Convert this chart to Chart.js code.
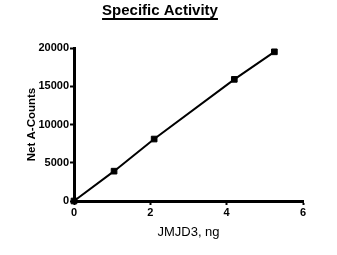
<!DOCTYPE html>
<html>
<head>
<meta charset="utf-8">
<script src="https://cdn.jsdelivr.net/npm/chart.js@4"></script>
<style>
html,body{margin:0;padding:0;background:#fff;}
#wrap{width:337px;height:255px;position:relative;}
</style>
</head>
<body>
<div id="wrap"><canvas id="c" width="337" height="255"></canvas></div>
<script>
const chartTitle = "Specific Activity";
const xAxisTitle = "JMJD3, ng";
const yAxisTitle = "Net A-Counts";
const jmjd3Ng = [0, 1.05, 2.1, 4.2, 5.25];
const netCounts = [0, 3900, 8100, 15900, 19500];
const xTicks = [0, 2, 4, 6];
const yTicks = [0, 5000, 10000, 15000, 20000];

const FONT = "'Liberation Sans', Arial, sans-serif";

const titlePlugin = {
  id: 'underlinedTitle',
  afterDraw(chart) {
    const ctx = chart.ctx;
    ctx.save();
    ctx.font = "bold 15px " + FONT;
    ctx.fillStyle = '#000';
    ctx.textAlign = 'center';
    ctx.textBaseline = 'alphabetic';
    const cx = 160, base = 15;
    ctx.fillText(chartTitle, cx, base);
    const w = ctx.measureText(chartTitle).width;
    ctx.fillRect(cx - w / 2, 18, w, 2);
    ctx.restore();
  }
};

const points = jmjd3Ng.map((x, i) => ({x, y: netCounts[i]}));

new Chart(document.getElementById('c'), {
  type: 'scatter',
  data: {
    datasets: [{
      data: points,
      showLine: true,
      borderColor: '#000',
      borderWidth: 2,
      backgroundColor: '#000',
      pointStyle: 'rect',
      pointRadius: 4,
      pointBorderWidth: 1,
      pointBorderColor: '#000',
      pointBackgroundColor: '#000',
      clip: false
    }]
  },
  options: {
    responsive: false,
    animation: false,
    devicePixelRatio: 1,
    layout: { padding: { left: 0, top: 48, right: 34, bottom: 0 } },
    plugins: { legend: { display: false }, tooltip: { enabled: false }, title: { display: false } },
    scales: {
      x: {
        type: 'linear',
        min: 0, max: 6,
        afterBuildTicks: s => { s.ticks = xTicks.map(v => ({value: v})); },
        afterFit: s => { s.height = 54; },
        border: { display: true, color: '#000', width: 3 },
        grid: { drawOnChartArea: false, drawTicks: true, tickLength: 4, tickWidth: 2, tickColor: '#000' },
        ticks: { color: '#000', padding: 1, font: { family: FONT, size: 11, weight: 'bold' }, maxRotation: 0, callback: v => String(v) },
        title: { display: true, text: xAxisTitle, color: '#000', font: { family: FONT, size: 13, weight: 'normal' }, padding: { top: 0, bottom: 15 } }
      },
      y: {
        type: 'linear',
        min: 0, max: 20000,
        afterBuildTicks: s => { s.ticks = yTicks.map(v => ({value: v})); },
        afterFit: s => { s.width = 74; },
        border: { display: true, color: '#000', width: 3 },
        grid: { drawOnChartArea: false, drawTicks: true, tickLength: 4, tickWidth: 2, tickColor: '#000' },
        ticks: { color: '#000', padding: 1, font: { family: FONT, size: 11, weight: 'bold' }, callback: v => String(v) },
        title: { display: true, text: yAxisTitle, color: '#000', font: { family: FONT, size: 11.5, weight: 'bold' }, padding: { top: 25, bottom: 0 } }
      }
    }
  },
  plugins: [titlePlugin]
});
</script>
</body>
</html>
